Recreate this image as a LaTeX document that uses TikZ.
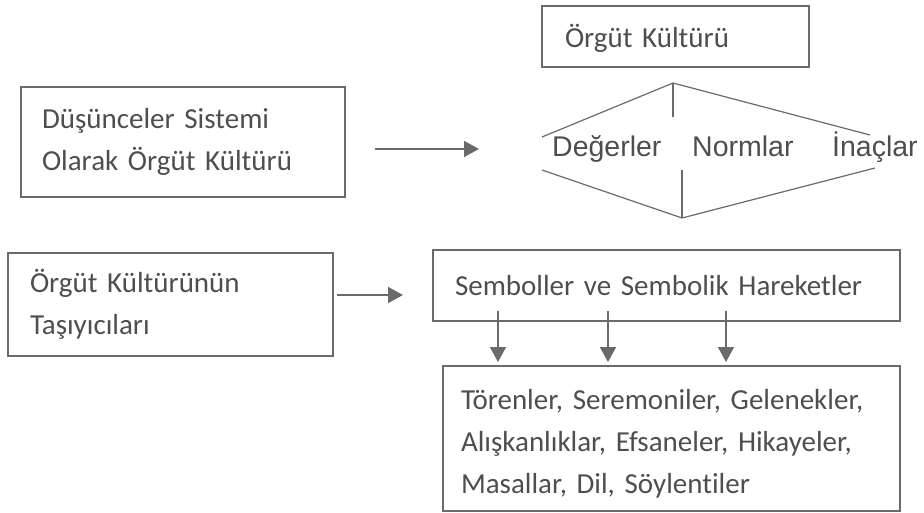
\documentclass[tikz,border=0pt]{standalone}
\usepackage{fontspec}
\setmainfont{Carlito}[Ligatures=NoCommon, WordSpace=0.7]
\newfontfamily\arialfont{Liberation Sans}
\usepackage{tikz}
\usetikzlibrary{arrows.meta}
\definecolor{boxline}{HTML}{6A6A6A}
\definecolor{boxtext}{HTML}{4E4E4E}

\begin{document}
\begin{tikzpicture}[
                x=1pt, y=-1pt,
                kutu/.style={draw=boxline, line width=1.5pt, text=boxtext, anchor=north west, outer sep=0pt,
                  align=left, inner ysep=0pt, font=\fontsize{29}{42}\selectfont}, % text boxes
                kavram/.style={anchor=base west, text=boxtext, inner sep=0pt,
                  font=\arialfont\fontsize{28.5}{30}\selectfont}, % words in the diamond
                ok/.style={draw=boxline, line width=1.5pt, -{Triangle[length=15pt,width=16pt]}}, % arrows
                cizgi/.style={draw=boxline, line width=1.2pt} % diamond lines
                ]
                \useasboundingbox (0,0) rectangle (924,513);
                % left column
                \node[kutu, minimum width=324pt, minimum height=110pt, text width=282pt, inner xsep=21pt] (dusunce) at (21,87) {Düşünceler Sistemi\\Olarak Örgüt Kültürü};
                \node[kutu, minimum width=325pt, minimum height=103pt, text width=281pt, inner xsep=22pt] (tasiyici) at (8,253) {Örgüt Kültürünün\\Taşıyıcıları};
                % right column
                \node[kutu, minimum width=267pt, minimum height=61pt, text width=221pt, inner xsep=23pt] (orgut) at (542,6) {\rule{0pt}{27pt}Örgüt Kültürü};
                \node[kutu, minimum width=467pt, minimum height=71pt, text width=423pt, inner xsep=22pt] (sembol) at (433,250) {Semboller ve Sembolik Hareketler};
                \node[kutu, minimum width=457pt, minimum height=145pt, text width=421pt, inner xsep=18pt] (toren) at (443,366) {\rule{0pt}{31pt}Törenler, Seremoniler, Gelenekler,\\Alışkanlıklar, Efsaneler, Hikayeler,\\Masallar, Dil, Söylentiler};
                % diamond
                \draw[cizgi] (542,137) -- (673,83) -- (870,135);
                \draw[cizgi] (673,83) -- (673,117);
                \draw[cizgi] (542,170) -- (682,218) -- (875,168);
                \draw[cizgi] (682,170) -- (682,218);
                \node[kavram] (deger) at (552,157) {Değerler};
                \node[kavram] (norm) at (692,157) {Normlar};
                \node[kavram] (inanc) at (832,157) {İnaçlar};
                % arrows
                \coordinate (ok1s) at (375,149);
                \coordinate (ok1e) at (479,149);
                \draw[ok] (ok1s) -- (ok1e);
                \coordinate (ok2s) at (337,295);
                \coordinate (ok2e) at (403,295);
                \draw[ok] (ok2s) -- (ok2e);
                \foreach \x [count=\i] in {498,608,726} {
                  \coordinate (in\i s) at (\x,311);
                  \coordinate (in\i e) at (\x,362);
                  \draw[ok] (in\i s) -- (in\i e);
                }
            \end{tikzpicture}
\end{document}
